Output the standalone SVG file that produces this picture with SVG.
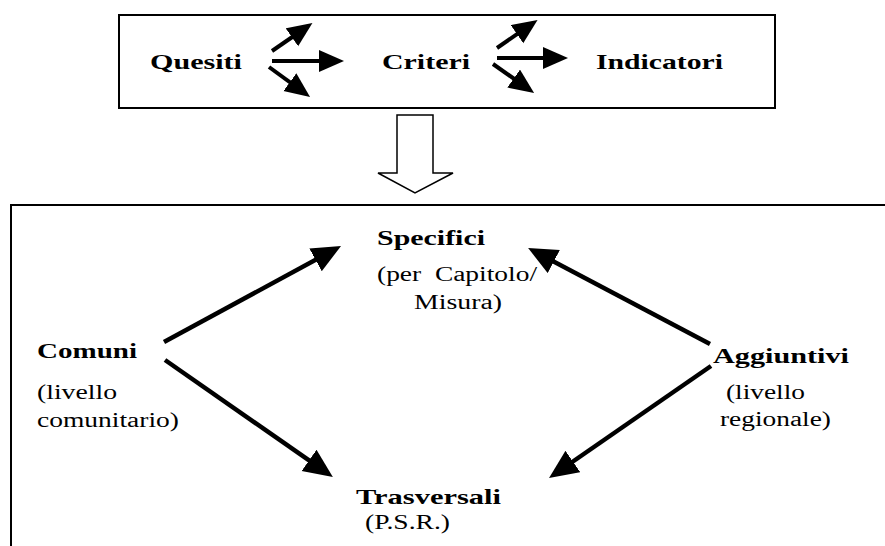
<svg xmlns="http://www.w3.org/2000/svg" width="885" height="546" viewBox="0 0 885 546">
<style>
.box{fill:#fff;stroke:#000;stroke-width:2}
.b{font-family:"Liberation Serif",serif;font-weight:bold;fill:#000;font-size:22px}
.r{font-family:"Liberation Serif",serif;fill:#000;font-size:20px}
.s{stroke:#000;stroke-width:4;fill:none}
.l{stroke:#000;stroke-width:4.5;fill:none}
</style>
<defs>
<marker id="hs" markerUnits="userSpaceOnUse" markerWidth="28" markerHeight="24" refX="19" refY="11" orient="auto"><path d="M0,0 L25,11 L0,22 Z" fill="#000"/></marker>
<marker id="hl" markerUnits="userSpaceOnUse" markerWidth="32" markerHeight="28" refX="21" refY="13" orient="auto"><path d="M0,0 L29,13 L0,26 Z" fill="#000"/></marker>
</defs>
<rect class="box" x="119" y="15" width="656" height="93"/>
<rect class="box" x="11" y="205" width="890" height="360"/>
<g id="downarrow"><path d="M397,115 L433,115 L433,173 L453,173 L415,193 L378,173 L397,173 Z" fill="#fff" stroke="#000" stroke-width="1.5"/></g>
<g id="quesiti"><text class="b" x="150" y="69" textLength="92" lengthAdjust="spacingAndGlyphs">Quesiti</text></g>
<g id="criteri"><text class="b" x="382" y="69" textLength="88" lengthAdjust="spacingAndGlyphs">Criteri</text></g>
<g id="indicatori"><text class="b" x="596" y="69" textLength="127" lengthAdjust="spacingAndGlyphs">Indicatori</text></g>
<g id="specifici"><text class="b" x="377" y="245" textLength="108" lengthAdjust="spacingAndGlyphs">Specifici</text><text class="r" x="377" y="281" xml:space="preserve" textLength="160" lengthAdjust="spacingAndGlyphs">(per  Capitolo/</text><text class="r" x="414" y="309" textLength="88" lengthAdjust="spacingAndGlyphs">Misura)</text></g>
<g id="comuni"><text class="b" x="37" y="358" textLength="100" lengthAdjust="spacingAndGlyphs">Comuni</text><text class="r" x="37" y="399" textLength="80" lengthAdjust="spacingAndGlyphs">(livello</text><text class="r" x="37" y="427" textLength="142" lengthAdjust="spacingAndGlyphs">comunitario)</text></g>
<g id="aggiuntivi"><text class="b" x="713" y="363" textLength="136" lengthAdjust="spacingAndGlyphs">Aggiuntivi</text><text class="r" x="726" y="399" textLength="79" lengthAdjust="spacingAndGlyphs">(livello</text><text class="r" x="720" y="426" textLength="111" lengthAdjust="spacingAndGlyphs">regionale)</text></g>
<g id="trasversali"><text class="b" x="356" y="504" textLength="145" lengthAdjust="spacingAndGlyphs">Trasversali</text><text class="r" x="365" y="529" textLength="85" lengthAdjust="spacingAndGlyphs">(P.S.R.)</text></g>
<g id="connectors">
<line class="s" x1="272" y1="61" x2="338" y2="61" marker-end="url(#hs)"/>
<line class="s" x1="272" y1="51" x2="307.5" y2="26.5" marker-end="url(#hs)"/>
<line class="s" x1="269" y1="67" x2="305.2" y2="93.4" marker-end="url(#hs)"/>
<line class="s" x1="497" y1="58" x2="562" y2="58" marker-end="url(#hs)"/>
<line class="s" x1="497" y1="48" x2="532.6" y2="23.4" marker-end="url(#hs)"/>
<line class="s" x1="493" y1="64" x2="529.2" y2="89.5" marker-end="url(#hs)"/>
<line class="l" x1="164" y1="342" x2="334" y2="249.8" marker-end="url(#hl)"/>
<line class="l" x1="710" y1="344" x2="535.2" y2="251.8" marker-end="url(#hl)"/>
<line class="l" x1="165" y1="360" x2="326.3" y2="472.4" marker-end="url(#hl)"/>
<line class="l" x1="711" y1="366" x2="555.6" y2="473.5" marker-end="url(#hl)"/>
</g>
</svg>
